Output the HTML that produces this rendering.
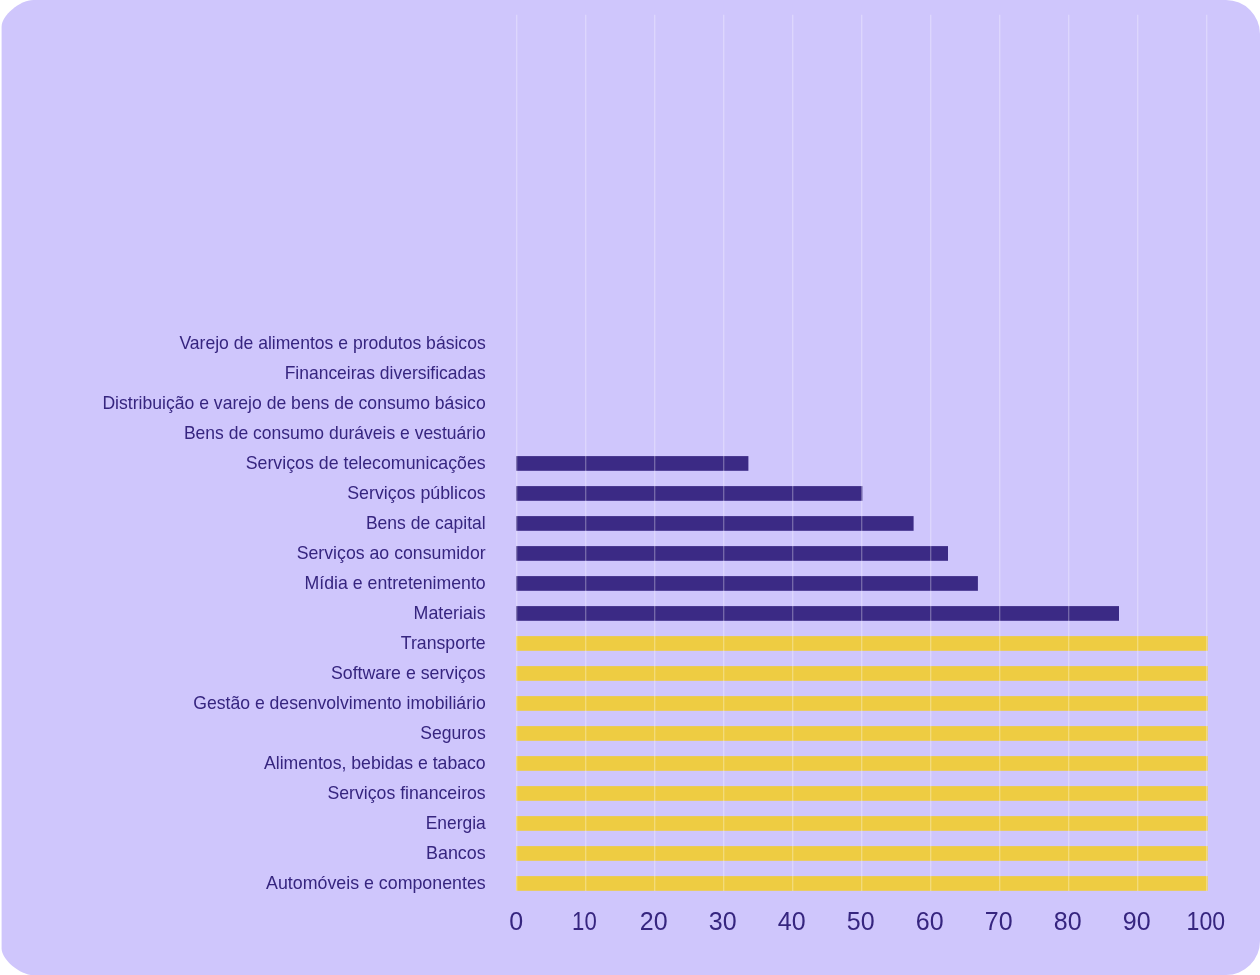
<!DOCTYPE html>
<html lang="pt-BR">
<head>
<meta charset="utf-8">
<title>Gráfico de setores</title>
<style>
html,body{margin:0;padding:0;background:#fff;}
body{width:1260px;height:975px;overflow:hidden;}
svg{display:block;}
.lbl{font-family:"Liberation Sans",sans-serif;font-size:18.4px;fill:#36257f;text-anchor:end;}
.tick{font-family:"Liberation Sans",sans-serif;font-size:25px;fill:#36257f;text-anchor:middle;}
</style>
</head>
<body>
<svg width="1260" height="975" viewBox="0 0 1260 975">
<path d="M33.3 0 H1226 A34 34 0 0 1 1260 34 V941 A34 34 0 0 1 1226 975 H33.3 C19.9 975 1.6 959.5 1.6 948.4 V26.7 C1.6 15.5 19.9 0 33.3 0 Z" fill="#cfc6fc"/>
<g>
<rect x="516.1" y="456.10" width="232.3" height="14.70" fill="#3b2a85"/>
<rect x="516.1" y="486.10" width="346.3" height="14.70" fill="#3b2a85"/>
<rect x="516.1" y="516.10" width="397.5" height="14.70" fill="#3b2a85"/>
<rect x="516.1" y="546.10" width="431.9" height="14.70" fill="#3b2a85"/>
<rect x="516.1" y="576.10" width="461.8" height="14.70" fill="#3b2a85"/>
<rect x="516.1" y="606.10" width="602.9" height="14.70" fill="#3b2a85"/>
<rect x="516.1" y="636.10" width="691.6" height="14.70" fill="#eecc42"/>
<rect x="516.1" y="666.10" width="691.6" height="14.70" fill="#eecc42"/>
<rect x="516.1" y="696.10" width="691.6" height="14.70" fill="#eecc42"/>
<rect x="516.1" y="726.10" width="691.6" height="14.70" fill="#eecc42"/>
<rect x="516.1" y="756.10" width="691.6" height="14.70" fill="#eecc42"/>
<rect x="516.1" y="786.10" width="691.6" height="14.70" fill="#eecc42"/>
<rect x="516.1" y="816.10" width="691.6" height="14.70" fill="#eecc42"/>
<rect x="516.1" y="846.10" width="691.6" height="14.70" fill="#eecc42"/>
<rect x="516.1" y="876.10" width="691.6" height="14.70" fill="#eecc42"/>
</g>
<g stroke="#ffffff" stroke-opacity="0.31" stroke-width="1.3">
<line x1="516.70" y1="14.7" x2="516.70" y2="891"/>
<line x1="585.70" y1="14.7" x2="585.70" y2="891"/>
<line x1="654.70" y1="14.7" x2="654.70" y2="891"/>
<line x1="723.70" y1="14.7" x2="723.70" y2="891"/>
<line x1="792.70" y1="14.7" x2="792.70" y2="891"/>
<line x1="861.70" y1="14.7" x2="861.70" y2="891"/>
<line x1="930.70" y1="14.7" x2="930.70" y2="891"/>
<line x1="999.70" y1="14.7" x2="999.70" y2="891"/>
<line x1="1068.70" y1="14.7" x2="1068.70" y2="891"/>
<line x1="1137.70" y1="14.7" x2="1137.70" y2="891"/>
<line x1="1206.70" y1="14.7" x2="1206.70" y2="891"/>
</g>
<g class="lbl">
<text x="485.7" y="349.00" textLength="306.3" lengthAdjust="spacingAndGlyphs">Varejo de alimentos e produtos básicos</text>
<text x="485.7" y="379.00" textLength="201.0" lengthAdjust="spacingAndGlyphs">Financeiras diversificadas</text>
<text x="485.7" y="409.00" textLength="383.3" lengthAdjust="spacingAndGlyphs">Distribuição e varejo de bens de consumo básico</text>
<text x="485.7" y="439.00" textLength="301.8" lengthAdjust="spacingAndGlyphs">Bens de consumo duráveis e vestuário</text>
<text x="485.7" y="469.00" textLength="240.0" lengthAdjust="spacingAndGlyphs">Serviços de telecomunicações</text>
<text x="485.7" y="499.00" textLength="138.5" lengthAdjust="spacingAndGlyphs">Serviços públicos</text>
<text x="485.7" y="529.00" textLength="119.8" lengthAdjust="spacingAndGlyphs">Bens de capital</text>
<text x="485.7" y="559.00" textLength="189.0" lengthAdjust="spacingAndGlyphs">Serviços ao consumidor</text>
<text x="485.7" y="589.00" textLength="181.1" lengthAdjust="spacingAndGlyphs">Mídia e entretenimento</text>
<text x="485.7" y="619.00" textLength="72.1" lengthAdjust="spacingAndGlyphs">Materiais</text>
<text x="485.7" y="649.00" textLength="84.9" lengthAdjust="spacingAndGlyphs">Transporte</text>
<text x="485.7" y="679.00" textLength="154.7" lengthAdjust="spacingAndGlyphs">Software e serviços</text>
<text x="485.7" y="709.00" textLength="292.4" lengthAdjust="spacingAndGlyphs">Gestão e desenvolvimento imobiliário</text>
<text x="485.7" y="739.00" textLength="65.5" lengthAdjust="spacingAndGlyphs">Seguros</text>
<text x="485.7" y="769.00" textLength="221.7" lengthAdjust="spacingAndGlyphs">Alimentos, bebidas e tabaco</text>
<text x="485.7" y="799.00" textLength="158.2" lengthAdjust="spacingAndGlyphs">Serviços financeiros</text>
<text x="485.7" y="829.00" textLength="60.0" lengthAdjust="spacingAndGlyphs">Energia</text>
<text x="485.7" y="859.00" textLength="59.7" lengthAdjust="spacingAndGlyphs">Bancos</text>
<text x="485.7" y="889.00" textLength="219.6" lengthAdjust="spacingAndGlyphs">Automóveis e componentes</text>
</g>
<g class="tick">
<text x="516.1" y="929.7">0</text>
<text x="584.4" y="929.7" textLength="24.6" lengthAdjust="spacingAndGlyphs">10</text>
<text x="653.7" y="929.7">20</text>
<text x="722.7" y="929.7">30</text>
<text x="791.7" y="929.7">40</text>
<text x="860.7" y="929.7">50</text>
<text x="929.7" y="929.7">60</text>
<text x="998.7" y="929.7">70</text>
<text x="1067.7" y="929.7">80</text>
<text x="1136.7" y="929.7">90</text>
<text x="1205.8" y="929.7" textLength="38.5" lengthAdjust="spacingAndGlyphs">100</text>
</g>
</svg>
</body>
</html>
